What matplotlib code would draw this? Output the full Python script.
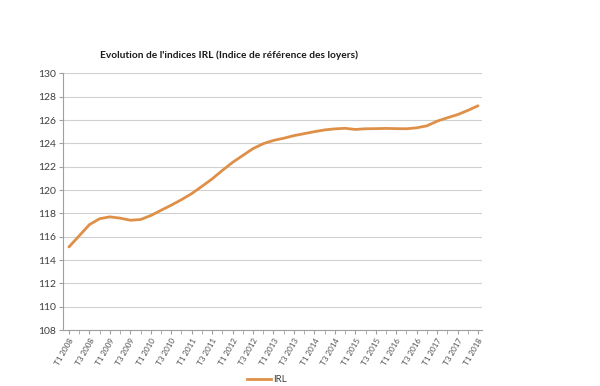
import matplotlib
matplotlib.use("Agg")
import matplotlib.pyplot as plt
import numpy as np
from matplotlib.lines import Line2D

quarters = []
for y in range(2008, 2019):
    for q in range(1, 5):
        quarters.append(f"T{q} {y}")
quarters = quarters[:41]

irl = [115.12, 116.07, 117.03, 117.54,
       117.70, 117.59, 117.41, 117.47,
       117.81, 118.26, 118.70, 119.17,
       119.69, 120.31, 120.95, 121.68,
       122.37, 122.96, 123.55, 123.97,
       124.25, 124.44, 124.66, 124.83,
       125.00, 125.15, 125.24, 125.29,
       125.19, 125.25, 125.26, 125.28,
       125.26, 125.25, 125.33, 125.50,
       125.90, 126.19, 126.46, 126.82,
       127.22]

title = "Evolution de l'indices IRL (Indice de référence des loyers)"
series_name = "IRL"
yticks = list(range(108, 131, 2))

plt.rcParams['font.family'] = ['Lato', 'DejaVu Sans']

fig = plt.figure(figsize=(6, 3.86), dpi=100)
ax = fig.add_axes([0.1055, 0.145, 0.698, 0.665])

x = np.arange(len(irl))
color = '#DE9048'
ax.plot(x, irl, color=color, lw=2.0, solid_capstyle='round')

ax.set_ylim(108, 130)
ax.set_yticks(yticks)
ax.set_xlim(-0.55, len(irl) - 0.6)
ax.set_xticks(x[::2])
ax.set_xticklabels(quarters[::2], rotation=60, ha='right', rotation_mode='anchor',
                   fontsize=5.8, color='#505050')
ax.set_xticks(x, minor=True)
ax.tick_params(axis='x', which='both', length=3, color='#A0A0A0', direction='out', pad=2)
ax.tick_params(axis='y', length=3, color='#A0A0A0', labelsize=7.5, labelcolor='#404040', pad=2)

ax.grid(axis='y', color='#D0D0D0', lw=0.8)
ax.set_axisbelow(True)
for s in ['top', 'right']:
    ax.spines[s].set_visible(False)
for s in ['left', 'bottom']:
    ax.spines[s].set_color('#A0A0A0')
    ax.spines[s].set_linewidth(0.8)

fig.text(0.382, 0.857, title, ha='center', va='center', fontsize=7.3,
         fontweight='bold', color='#1a1a1a')

h = [Line2D([0], [0], color=color, lw=2)]
fig.legend(h, [series_name], loc='center', bbox_to_anchor=(0.445, 0.017),
           frameon=False, fontsize=7, handlelength=2.5, handletextpad=0.2,
           labelcolor='#404040')

fig.savefig("out.png", dpi=100, facecolor='white')
